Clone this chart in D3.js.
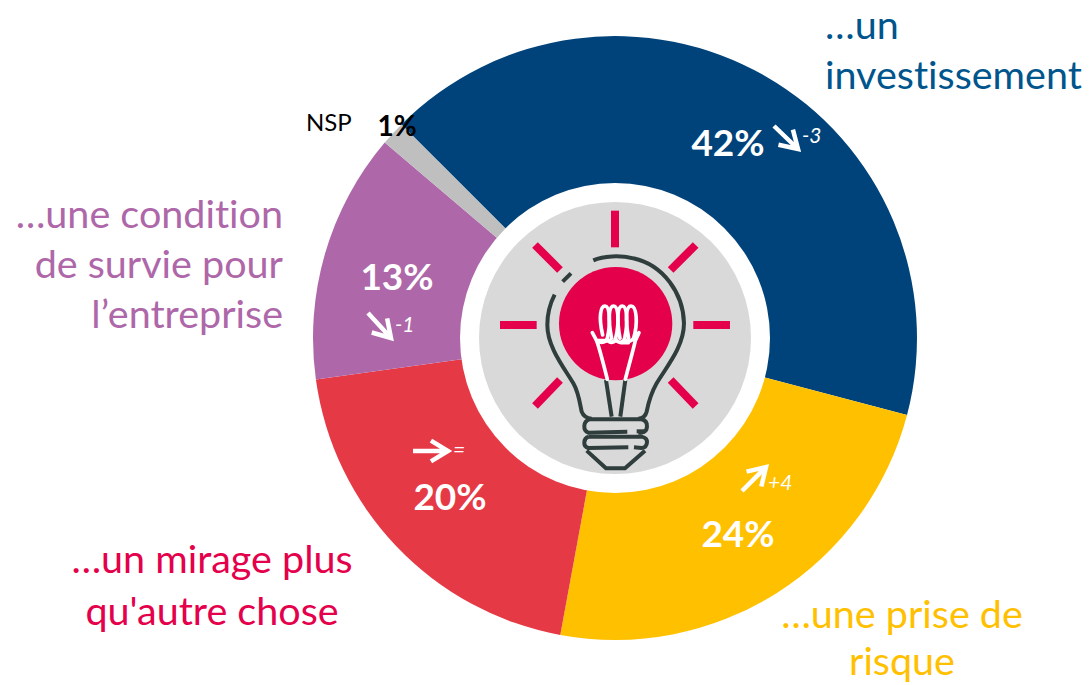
<!DOCTYPE html>
<html>
<head>
<meta charset="utf-8">
<script src="https://cdn.jsdelivr.net/npm/d3@7"></script>
<style>
html, body { margin: 0; padding: 0; background: #fff; }
svg { display: block; font-family: Lato, sans-serif; font-variant-ligatures: none; }
</style>
</head>
<body>
<svg id="chart" width="1089" height="685"></svg>
<script>
// slices, clockwise from the top of the dark blue one
var categories = ["investissement", "risque", "mirage", "survie", "NSP"];
var values = [41.6, 23.8, 19.9, 13.4, 1.3];
var valueLabels = ["42%", "24%", "20%", "13%", "1%"];
var changes = ["-3", "+4", "=", "-1", ""];
var sliceColors = ["#00437a", "#ffc000", "#e63946", "#ae67a8", "#bfbfbf"];

var svg = d3.select("#chart");
var cx = 615, cy = 338;
var startDeg = -45;

var pie = d3.pie().sort(null)
    .startAngle(startDeg * Math.PI / 180)
    .endAngle((startDeg + 360) * Math.PI / 180);
var arc = d3.arc().innerRadius(0).outerRadius(302);

var donut = svg.append("g").attr("transform", "translate(" + cx + "," + cy + ")");
donut.selectAll("path")
    .data(pie(values))
    .enter().append("path")
    .attr("d", arc)
    .attr("fill", function(d, i) { return sliceColors[i]; });

donut.append("circle").attr("r", 155).attr("fill", "#fff");
donut.append("circle").attr("r", 136).attr("fill", "#d9d9d9");

// bulb icon, coordinates are the ones of the 3x zoom
var bulb = svg.append("g").attr("transform", "translate(470,190) scale(0.3333)");
var pink = "#e4004b", dark = "#2f3d3d";

var rays = [[435,62,435,172],[195,165,270,240],[677,165,602,240],[90,405,200,405],
            [670,405,780,405],[270,570,195,648],[602,570,677,648]];
bulb.selectAll("line.ray").data(rays).enter().append("line")
    .attr("class", "ray")
    .attr("x1", function(d) { return d[0]; }).attr("y1", function(d) { return d[1]; })
    .attr("x2", function(d) { return d[2]; }).attr("y2", function(d) { return d[3]; })
    .attr("stroke", pink).attr("stroke-width", 24);

bulb.append("circle").attr("cx", 437).attr("cy", 401).attr("r", 170).attr("fill", pink);

var darkPaths = [
    "M370,211 C400,198 450,195 490,205 C580,225 640,310 642,400 C642,470 590,530 560,580 C540,615 535,640 530,665 Q525,684 505,686",
    "M254,314 C238,345 232,375 232,405 C232,470 280,530 310,580 C325,605 330,640 335,665 Q342,684 365,686",
    "M278,275 L303,250",
    "M408,570 L425,680",
    "M466,570 L451,680",
    "M358,688 L515,688 Q532,692 531,710 Q530,726 515,728 L505,728 M472,725 L355,728 Q342,724 343,708 Q344,692 358,688",
    "M500,724 L525,724",
    "M355,740 L515,740 Q532,744 531,757 Q530,772 515,774 L492,772 M475,772 L355,774 Q342,770 343,757 Q344,744 355,740",
    "M350,782 L408,835 L465,835 L525,782"
];
bulb.selectAll("path.dark").data(darkPaths).enter().append("path")
    .attr("class", "dark").attr("d", function(d) { return d; })
    .attr("fill", "none").attr("stroke", dark).attr("stroke-width", 12)
    .attr("stroke-linecap", "butt").attr("stroke-linejoin", "round");

var whitePaths = [
    "M412,568 C400,520 390,480 380,452 L367,428",
    "M466,568 C478,520 490,480 496,452 L507,428",
    "M380,452 C395,462 410,455 412,445 C412,460 435,462 437,445 C437,460 462,462 464,445 C464,460 490,458 500,430",
    "M398,435 C385,380 392,348 405,348 C420,348 422,400 412,445",
    "M425,445 C412,380 418,348 431,348 C446,348 448,400 437,445",
    "M450,445 C438,380 444,348 457,348 C472,348 474,400 464,445",
    "M476,445 C464,380 470,348 483,348 C500,348 505,400 490,448",
    "M382,452 L420,452 M455,458 L475,458"
];
bulb.selectAll("path.fil").data(whitePaths).enter().append("path")
    .attr("class", "fil").attr("d", function(d) { return d; })
    .attr("fill", "none").attr("stroke", "#fff").attr("stroke-width", 11)
    .attr("stroke-linecap", "round");

// category labels
var textBlocks = [
    { lines: ["…un", "investissement"], x: 825, y: [39, 89], anchor: "start", color: "#00558c" },
    { lines: ["…une prise de", "risque"], x: 902, y: [628, 675], anchor: "middle", color: "#ffc000" },
    { lines: ["…un mirage plus", "qu'autre chose"], x: 212, y: [573, 625], anchor: "middle", color: "#e4004b" },
    { lines: ["…une condition", "de survie pour", "l’entreprise"], x: 283, y: [228, 278, 328], anchor: "end", color: "#ae67a8" }
];
textBlocks.forEach(function(b) {
    b.lines.forEach(function(t, i) {
        svg.append("text").attr("x", b.x).attr("y", b.y[i])
            .attr("text-anchor", b.anchor).attr("fill", b.color)
            .attr("font-size", 39.5).text(t);
    });
});

svg.append("text").attr("x", 306).attr("y", 131).attr("font-size", 24).attr("fill", "#000").text(categories[4]);

// percentages
var pctPos = [[728,156],[738,547],[450,510],[397,290],[397,136]];
valueLabels.forEach(function(t, i) {
    svg.append("text").attr("x", pctPos[i][0]).attr("y", pctPos[i][1])
        .attr("text-anchor", "middle").attr("font-weight", 700)
        .attr("font-size", i == 4 ? 28 : 37)
        .attr("fill", i == 4 ? "#000" : "#fff").text(t);
});

// evolution arrows with their small italic figure
var arrows = [[774,126,798,149],[742,491,766,467],[413,451,448,451],[368,313,391,338]];
var changePos = [[802,143],[768,490],[453,457],[395,332]];
arrows.forEach(function(a, i) {
    var ang = Math.atan2(a[3] - a[1], a[2] - a[0]), h = 20;
    var head = "M" + (a[2] - h * Math.cos(ang - 0.55)) + "," + (a[3] - h * Math.sin(ang - 0.55)) +
        " L" + a[2] + "," + a[3] +
        " L" + (a[2] - h * Math.cos(ang + 0.55)) + "," + (a[3] - h * Math.sin(ang + 0.55));
    svg.append("path").attr("d", "M" + a[0] + "," + a[1] + " L" + a[2] + "," + a[3] + " " + head)
        .attr("fill", "none").attr("stroke", "#fff").attr("stroke-width", 4.5);
    svg.append("text").attr("x", changePos[i][0]).attr("y", changePos[i][1])
        .attr("font-size", 21).attr("font-style", "italic").attr("fill", "#fff").text(changes[i]);
});
</script>
</body>
</html>
